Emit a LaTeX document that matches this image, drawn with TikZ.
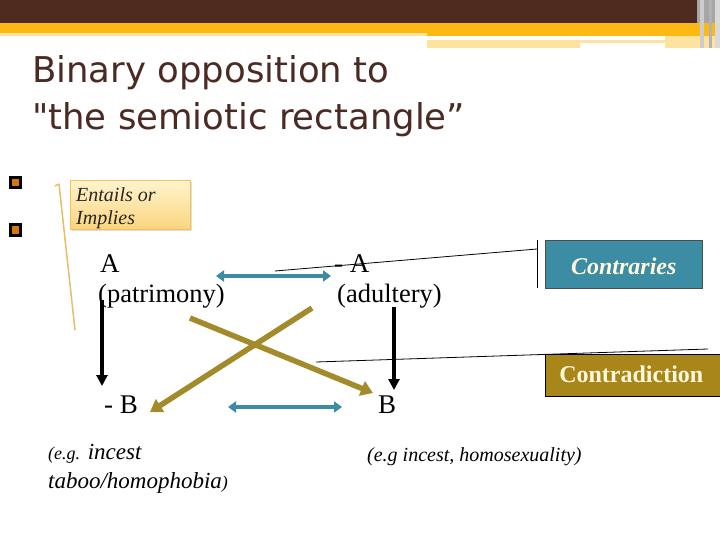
\documentclass[tikz,border=0pt]{standalone}
\usepackage{fontspec}
\setmainfont{Liberation Serif}
\newfontfamily\titlefont{DejaVu Sans}
\usetikzlibrary{arrows.meta,shadows}
\definecolor{barbrown}{HTML}{4E2A1F}
\definecolor{barorange}{HTML}{FDB913}
\definecolor{paleyel}{HTML}{FEE3A0}
\definecolor{tealc}{HTML}{3C8CA3}
\definecolor{goldc}{HTML}{A8861A}
\definecolor{goldline}{HTML}{A38A2A}
\definecolor{titlebrown}{HTML}{4A2A22}
\definecolor{bulletor}{HTML}{D7750E}
\definecolor{calloutA}{HTML}{FFF4CC}
\definecolor{calloutB}{HTML}{FBD57F}
\definecolor{calloutline}{HTML}{F2C15A}
\definecolor{creamtext}{HTML}{FFF8DC}
\definecolor{bracketc}{HTML}{E6BE68}
\tikzset{
  lbl/.style={inner sep=0pt, anchor=base west, font=\fontsize{27}{30}\selectfont},
  sublbl/.style={inner sep=0pt, anchor=base west, font=\fontsize{26.5}{28}\selectfont},
  blackarr/.style={draw=black, line width=3.5pt, -{Triangle[length=11pt,width=11pt]}},
  tealarr/.style={draw=tealc, line width=4.2pt, {Triangle[length=8pt,width=11pt]}-{Triangle[length=8pt,width=11pt]}},
  goldarr/.style={draw=goldline, line width=5.5pt, -{Triangle[length=12pt,width=15pt]}},
  thinline/.style={draw=black, line width=0.8pt},
  bulletsq/.style={draw=black, line width=3pt, fill=bulletor, minimum size=10pt, inner sep=0pt},
  titletxt/.style={inner sep=0pt, anchor=base west, text=titlebrown, font=\titlefont\fontsize{35.5}{40}\selectfont},
}
\begin{document}
\begin{tikzpicture}[x=1pt,y=-1pt]
\useasboundingbox (0,0) rectangle (720,540);
\fill[white] (0,0) rectangle (720,540);
% top bar
\fill[barbrown] (0,0) rectangle (700,23);
\fill[barorange] (0,23) rectangle (720,33);
\fill[paleyel] (0,33) rectangle (427,36);
\fill[barorange] (427,33) rectangle (720,36);
\fill[paleyel] (427,40) rectangle (580,48);
\fill[paleyel] (580,40) rectangle (665,43);
\fill[paleyel] (665,36) rectangle (720,48);
\fill[gray!70] (697,0) rectangle (720,23);
\fill[gray!40] (700,0) rectangle (704,48);
\fill[gray!60] (709,0) rectangle (712,48);
\fill[gray!30] (715,0) rectangle (720,48);
% title
\node[titletxt] (t1) at (32,83) {Binary opposition to};
\node[titletxt] (t2) at (32,130) {"the semiotic rectangle”};
% bullets
\node[bulletsq] (b1) at (15,183) {};
\node[bulletsq] (b2) at (15,230) {};
% bracket line
\coordinate (br0) at (59,184);
\coordinate (br1) at (55,186);
\coordinate (br2) at (75,330);
\draw[draw=bracketc, line width=1.5pt] (br1) -- (br0);
\draw[draw=bracketc, line width=1.5pt] (br0) -- (br2);
% callout
\node[draw=calloutline, line width=0.8pt, top color=calloutA, bottom color=calloutB, drop shadow={opacity=0.25,shadow xshift=2pt,shadow yshift=-2pt}, minimum width=120pt, minimum height=49pt, anchor=north west, inner sep=0pt] (call) at (70,180) {};
\node[inner sep=0pt, anchor=base west, align=left, font=\itshape\fontsize{20}{23}\selectfont, text=black!85] (calltxt) at (76,225) {Entails or\\Implies};
% labels
\node[lbl] (A) at (100,272) {A};
\node[sublbl] (pat) at (98,302) {(patrimony)};
\node[lbl] (nA) at (334,272) {- A};
\node[sublbl] (adu) at (337,302) {(adultery)};
\node[lbl] (nB) at (104,413) {- B};
\node[lbl] (B) at (378,413) {B};
% boxes
\node[draw=black!70, line width=0.6pt, fill=tealc, minimum width=157pt, minimum height=48pt, anchor=north west, inner sep=0pt] (contr) at (545,240) {};
\node[text=creamtext, font=\bfseries\itshape\fontsize{24}{26}\selectfont, inner sep=0pt] at ([yshift=-2pt]contr.center) {Contraries};
\node[draw=black, line width=0.6pt, fill=goldc, minimum width=176pt, minimum height=42pt, anchor=north west, inner sep=0pt] (contd) at (545,354) {};
\node[text=creamtext, font=\bfseries\fontsize{24}{26}\selectfont, inner sep=0pt] at ([xshift=-2pt,yshift=1pt]contd.center) {Contradiction};
% thin lines
\coordinate (l1a) at (275,271);
\coordinate (l1b) at (537,249);
\coordinate (v1a) at (537,240);
\coordinate (v1b) at (537,288);
\draw[thinline] (l1a) -- (l1b);
\draw[thinline] (v1a) -- (v1b);
\coordinate (l2a) at (316,362);
\coordinate (l2b) at (708,349);
\draw[thinline] (l2a) -- (l2b);
% arrows
\coordinate (ta1) at (216,276);
\coordinate (ta2) at (331,276);
\draw[tealarr] (ta1) -- (ta2);
\coordinate (tb1) at (228,407);
\coordinate (tb2) at (342,407);
\draw[tealarr] (tb1) -- (tb2);
\coordinate (ka1) at (102,300);
\coordinate (ka2) at (102,386);
\draw[blackarr] (ka1) -- (ka2);
\coordinate (kb1) at (394,307);
\coordinate (kb2) at (394,390);
\draw[blackarr] (kb1) -- (kb2);
\coordinate (g1a) at (190,318);
\coordinate (g1b) at (373,393);
\draw[goldarr] (g1a) -- (g1b);
\coordinate (g2a) at (312,308);
\coordinate (g2b) at (150,412);
\draw[goldarr] (g2a) -- (g2b);
% examples
\node[inner sep=0pt, anchor=base west, align=left, font=\itshape\fontsize{23}{29}\selectfont] (ex1) at (48,488) {{\fontsize{18}{20}\selectfont(e.g.} incest\\taboo/homophobia{\fontsize{18}{20}\selectfont)}};
\node[inner sep=0pt, anchor=base west, font=\itshape\fontsize{20}{22}\selectfont] (ex2) at (367,461) {(e.g incest, homosexuality)};
\end{tikzpicture}
\end{document}
